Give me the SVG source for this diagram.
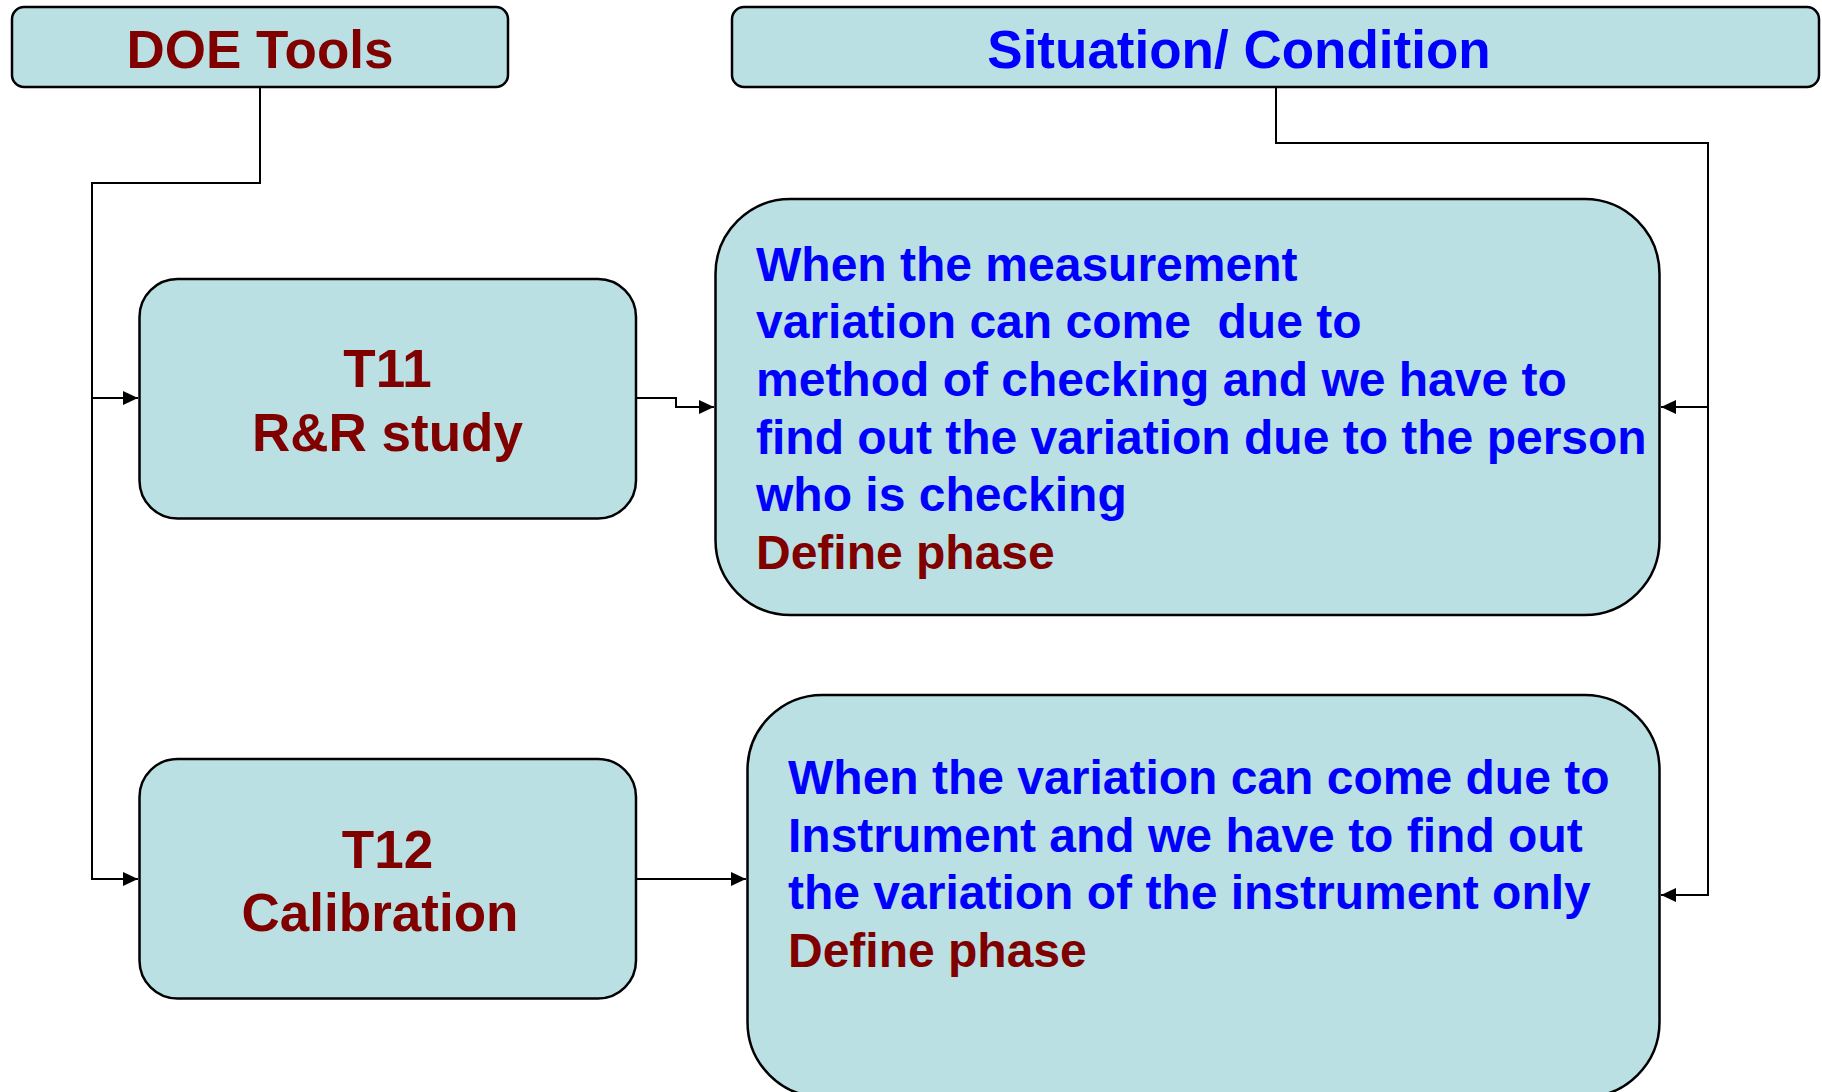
<svg xmlns="http://www.w3.org/2000/svg" width="1822" height="1092" viewBox="0 0 1822 1092">
<style>
.box{fill:#BAE0E3;stroke:#000;stroke-width:2.5}
.t{font-family:"Liberation Sans",Arial,sans-serif;font-weight:bold}
.red{fill:#800000}
.blue{fill:#0000FF}
.big{font-size:53px}
.body{font-size:48px}
.c{fill:none;stroke:#000;stroke-width:2}
</style>
<defs>
<marker id="ah" markerUnits="userSpaceOnUse" markerWidth="16" markerHeight="14" refX="15" refY="7" orient="auto">
<path d="M0,0 L15,7 L0,14 Z" fill="#000"/>
</marker>
</defs>
<rect width="1822" height="1092" fill="#fff"/>
<g id="connectors">
<path class="c" d="M260,87 V183 H92 V398 H138" marker-end="url(#ah)"/>
<path class="c" d="M92,398 V879 H138" marker-end="url(#ah)"/>
<path class="c" d="M636,398 H676 V407 H714" marker-end="url(#ah)"/>
<path class="c" d="M636,879 H746" marker-end="url(#ah)"/>
<path class="c" d="M1276,87 V143 H1708 V407 H1661" marker-end="url(#ah)"/>
<path class="c" d="M1708,407 V895 H1661" marker-end="url(#ah)"/>
</g>
<g id="doe-tools">
<rect class="box" x="12" y="7" width="496" height="80" rx="12"/>
<text class="t red big" x="260" y="68" text-anchor="middle">DOE Tools</text>
</g>
<g id="situation">
<rect class="box" x="732" y="7" width="1087" height="80" rx="12"/>
<text class="t blue big" x="1239" y="68" text-anchor="middle">Situation/ Condition</text>
</g>
<g id="t11">
<rect class="box" x="139.5" y="279" width="496.5" height="239.5" rx="38"/>
<text class="t red big" x="387.5" y="387" text-anchor="middle">T11</text>
<text class="t red big" x="387.5" y="451" text-anchor="middle">R&amp;R study</text>
</g>
<g id="t12">
<rect class="box" x="139.5" y="759" width="496.5" height="239.5" rx="38"/>
<text class="t red big" x="387.5" y="868" text-anchor="middle">T12</text>
<text class="t red big" x="380" y="931" text-anchor="middle">Calibration</text>
</g>
<g id="measurement">
<rect class="box" x="715.5" y="199" width="944" height="416" rx="75"/>
<text class="t body blue" x="756" y="281">When the measurement</text>
<text class="t body blue" x="756" y="338" xml:space="preserve">variation can come  due to</text>
<text class="t body blue" x="756" y="396">method of checking and we have to</text>
<text class="t body blue" x="756" y="454">find out the variation due to the person</text>
<text class="t body blue" x="756" y="511">who is checking</text>
<text class="t body red" x="756" y="569">Define phase</text>
</g>
<g id="instrument">
<rect class="box" x="747.5" y="695" width="912" height="402" rx="75"/>
<text class="t body blue" x="788" y="794">When the variation can come due to</text>
<text class="t body blue" x="788" y="852">Instrument and we have to find out</text>
<text class="t body blue" x="788" y="909">the variation of the instrument only</text>
<text class="t body red" x="788" y="967">Define phase</text>
</g>
</svg>
